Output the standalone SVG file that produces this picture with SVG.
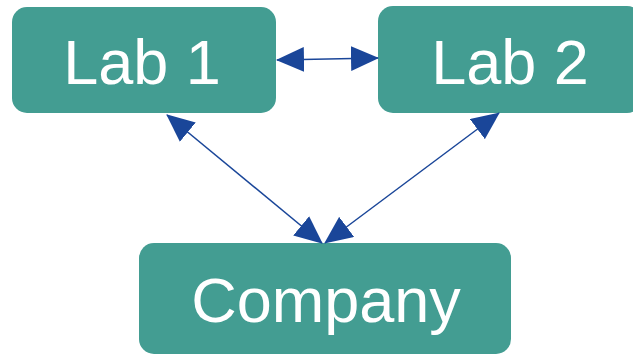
<svg xmlns="http://www.w3.org/2000/svg" width="633" height="354" viewBox="0 0 633 354">
<style>
.box{fill:#439d92;}
.lbl{fill:#ffffff;font-family:"Liberation Sans",Arial,sans-serif;font-size:63px;text-anchor:middle;}
.con{stroke:#1a4699;stroke-width:1.5;fill:none;marker-start:url(#ah);marker-end:url(#ah);}
</style>
<defs>
<marker id="ah" viewBox="0 0 28 25" refX="27" refY="12.5" markerWidth="28" markerHeight="25" markerUnits="userSpaceOnUse" orient="auto-start-reverse">
<path d="M0,0 L28,12.5 L0,25 z" fill="#1a4699"/>
</marker>
</defs>
<rect width="633" height="354" fill="#ffffff"/>
<g id="lab1">
<rect class="box" x="12" y="7" width="264" height="106" rx="15"/>
<text class="lbl" x="142" y="84">Lab 1</text>
</g>
<g id="lab2">
<rect class="box" x="378" y="6" width="264" height="107" rx="15"/>
<text class="lbl" x="510" y="84">Lab 2</text>
</g>
<g id="company">
<rect class="box" x="139" y="243" width="372" height="111" rx="15"/>
<text class="lbl" x="326" y="322">Company</text>
</g>
<g id="connectors">
<line class="con" x1="277" y1="60" x2="378" y2="58"/>
<line class="con" x1="167" y1="115" x2="322" y2="243"/>
<line class="con" x1="499" y1="113" x2="325" y2="243"/>
</g>
</svg>
